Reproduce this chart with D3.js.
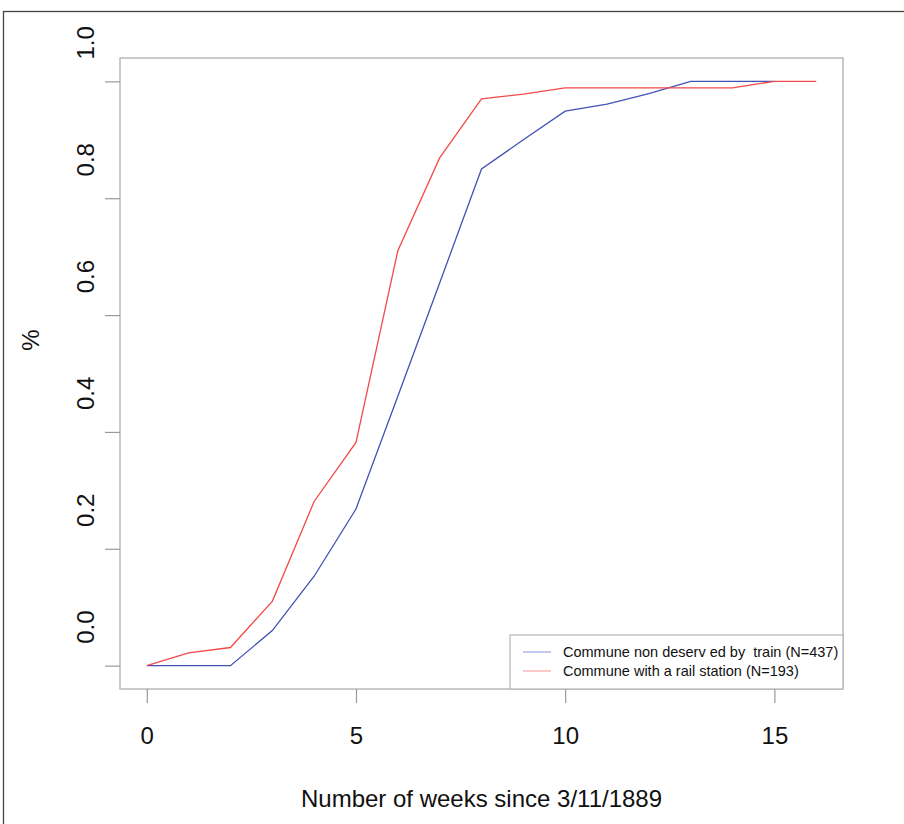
<!DOCTYPE html>
<html>
<head>
<meta charset="utf-8">
<script src="https://cdn.jsdelivr.net/npm/d3@7"></script>
<style>
  body { margin: 0; background: #fff; }
  svg { display: block; font-family: "Liberation Sans", Arial, sans-serif; }
  .legend text { white-space: pre; }
</style>
</head>
<body>
<div id="chart"></div>
<script>
// data
const weeks = d3.range(0, 17);
const noTrain = [0, 0, 0, 0.060, 0.153, 0.268, 0.461, 0.655, 0.850, 0.900, 0.949, 0.961, 0.979, 1.0, 1.0, 1.0];
const railStation = [0, 0.022, 0.031, 0.110, 0.281, 0.382, 0.710, 0.869, 0.970, 0.978, 0.989, 0.989, 0.989, 0.989, 0.989, 1.0, 1.0];
const xTicks = [0, 5, 10, 15];
const yTicks = [0, 0.2, 0.4, 0.6, 0.8, 1.0];
const seriesNames = ["Commune non deserv ed by  train (N=437)", "Commune with a rail station (N=193)"];
const lineColors = ["#4252b4", "#f24a4a"];
const legendColors = ["#8a92e0", "#f59494"];

const width = 904, height = 824;
const box = { left: 120, top: 58, right: 843, bottom: 689 };

const svg = d3.select('#chart')
    .append('svg')
    .attr('width', width)
    .attr('height', height);

// outer frame
svg.append("rect")
    .attr("x", 3.5)
    .attr("y", 11.5)
    .attr("width", 1000)
    .attr("height", 1000)
    .attr("fill", "none")
    .attr("stroke", "#444")
    .attr("stroke-width", 1.3);

// Scales (R style 4% padding)
const x = d3.scaleLinear()
    .domain([-0.64, 16.64])
    .range([box.left, box.right]);

const y = d3.scaleLinear()
    .domain([-0.04, 1.04])
    .range([box.bottom, box.top]);

// plot box
svg.append("rect")
    .attr("x", box.left)
    .attr("y", box.top)
    .attr("width", box.right - box.left)
    .attr("height", box.bottom - box.top)
    .attr("fill", "none")
    .attr("stroke", "#b4b4b4")
    .attr("stroke-width", 1.4);

// Axes
const xAxis = svg.append("g")
    .attr("transform", `translate(0,${box.bottom})`)
    .call(d3.axisBottom(x).tickValues(xTicks).tickSize(14).tickPadding(24).tickFormat(d3.format("d")));
xAxis.select(".domain").remove();
xAxis.selectAll("line").attr("stroke", "#999").attr("stroke-width", 1.2);
xAxis.selectAll("text")
    .attr("fill", "#111")
    .attr("font-size", 24)
    .attr("font-family", "Liberation Sans, Arial, sans-serif");

const yAxis = svg.append("g")
    .attr("transform", `translate(${box.left},0)`)
    .call(d3.axisLeft(y).tickValues(yTicks).tickSize(15).tickFormat(d3.format(".1f")));
yAxis.select(".domain").remove();
yAxis.selectAll("line").attr("stroke", "#999").attr("stroke-width", 1.2);
yAxis.selectAll("text")
    .attr("x", 0)
    .attr("dy", null)
    .attr("text-anchor", "middle")
    .attr("dominant-baseline", "central")
    .attr("transform", "translate(-35,-39) rotate(-90)")
    .attr("fill", "#111")
    .attr("font-size", 24)
    .attr("font-family", "Liberation Sans, Arial, sans-serif");

// axis titles
svg.append("text")
    .attr("x", (box.left + box.right) / 2)
    .attr("y", 798)
    .attr("text-anchor", "middle")
    .attr("dominant-baseline", "central")
    .attr("fill", "#111")
    .attr("font-size", 24)
    .text("Number of weeks since 3/11/1889");

svg.append("text")
    .attr("transform", "translate(30,340) rotate(-90)")
    .attr("text-anchor", "middle")
    .attr("dominant-baseline", "central")
    .attr("fill", "#111")
    .attr("font-size", 24)
    .text("%");

// Lines
const line = d3.line()
    .x((d, i) => x(weeks[i]))
    .y(d => y(d));

[noTrain, railStation].forEach((values, i) => {
    svg.append("path")
        .datum(values)
        .attr("fill", "none")
        .attr("stroke", lineColors[i])
        .attr("stroke-width", 1.3)
        .attr("d", line);
});

// Legend
const legend = svg.append("g")
    .attr("class", "legend")
    .attr("transform", `translate(510, 635)`);

legend.append("rect")
    .attr("width", box.right - 510)
    .attr("height", box.bottom - 635)
    .attr("fill", "#fff")
    .attr("stroke", "#b4b4b4")
    .attr("stroke-width", 1.2);

seriesNames.forEach((name, i) => {
    const row = legend.append("g")
        .attr("transform", `translate(0, ${17 + i * 19})`);

    row.append("line")
        .attr("x1", 13)
        .attr("x2", 41)
        .attr("stroke", legendColors[i])
        .attr("stroke-width", 1);

    row.append("text")
        .attr("x", 53)
        .attr("y", 0)
        .attr("dominant-baseline", "central")
        .attr("fill", "#111")
        .attr("font-size", 14.5)
        .text(name);
});
</script>
</body>
</html>
